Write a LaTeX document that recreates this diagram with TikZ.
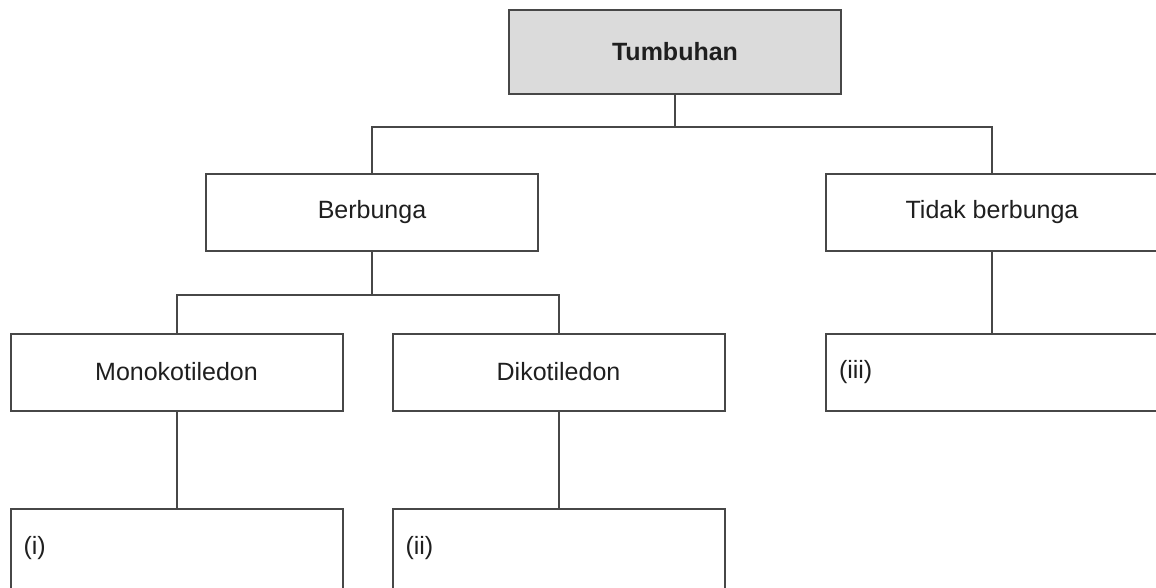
\documentclass[tikz,border=0pt]{standalone}
\usepackage[dvipsnames]{xcolor}
\usepackage{fontspec}
\setmainfont{Liberation Sans}
\colorlet{colorRoot}{black!14}
\colorlet{colorLine}{black!72}
\colorlet{colorText}{black!88}
\usepackage{tikz}
\usetikzlibrary{positioning}
\tikzset{box/.style={draw=colorLine, line width=2pt, minimum width=332pt, minimum height=77pt, text=colorText, font=\fontsize{25}{30}\selectfont}}
\tikzset{leafbox/.style={box, minimum height=80pt, text width=306pt, inner xsep=13pt, align=left}}
\tikzset{link/.style={draw=colorLine, line width=2pt}}
\begin{document}
\begin{tikzpicture}[x=1pt, y=-1pt]
\clip (0,0) rectangle (1156,587);
\node[box, fill=colorRoot, minimum height=84pt] (t0) at (675,51.5) {\textbf{Tumbuhan}};
\node[box] (t1) at (372,212) {Berbunga};
\node[box, right=286pt of t1] (t2) {Tidak berbunga};
\node[box] (t3) at (176.5,372) {Monokotiledon};
\node[box, right=48pt of t3] (t4) {Dikotiledon};
\node[leafbox, minimum height=77pt, below=81pt of t2] (t5) {(iii)};
\node[leafbox, below=96pt of t3, anchor=north] (t6) {(i)};
\node[leafbox, below=96pt of t4, anchor=north] (t7) {(ii)};
\coordinate (j0) at (t0.south |- 0,127);
\coordinate (j1) at (t1.south |- 0,295);
\draw[link] (t0.south) -- (j0);
\draw[link] (t1.north) |- (j0) -| (t2.north);
\draw[link] (t1.south) -- (j1);
\draw[link] (t3.north) |- (j1) -| (t4.north);
\draw[link] (t2.south) -- (t5.north);
\draw[link] (t3.south) -- (t6.north);
\draw[link] (t4.south) -- (t7.north);
\end{tikzpicture}
\end{document}
